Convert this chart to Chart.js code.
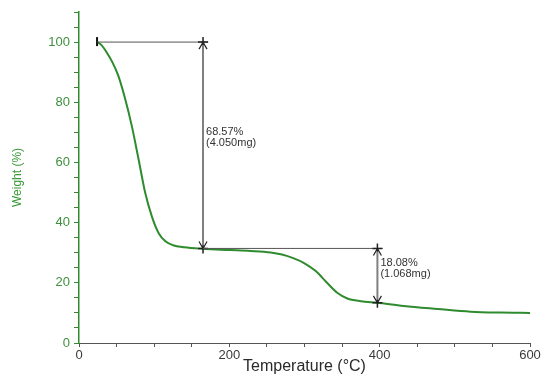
<!DOCTYPE html>
<html>
<head>
<meta charset="utf-8">
<script src="https://cdn.jsdelivr.net/npm/chart.js@4"></script>
<style>
  body { margin: 0; background: #fff; }
</style>
</head>
<body>
<canvas id="tga" width="543" height="376"></canvas>
<script>
// TGA curve
const temps   = [24, 30, 35, 44, 52, 61, 70, 79, 88, 97, 106, 115, 125, 140, 165, 201, 228, 255, 270, 285, 300, 315, 330, 344, 357, 375, 397, 432, 477, 521, 560, 600];
const weights = [100, 99.0, 97.3, 93.5, 89.0, 81.5, 72.4, 61.4, 50.0, 42.0, 36.5, 33.8, 32.5, 31.8, 31.3, 30.9, 30.6, 30.1, 29.4, 28.2, 26.5, 23.9, 20.0, 16.6, 14.8, 13.9, 13.35, 12.3, 11.3, 10.4, 10.1, 10.0];

// weight loss steps
const stepStart = [24, 165];      // start of horizontal line (°C)
const stepEnd   = [172, 404];     // end of horizontal line (°C)
const stepTemp  = [165, 397];     // where the arrow sits (°C)
const stepFrom  = [100, 31.43];   // weight before the step (%)
const stepTo    = [31.43, 13.35]; // weight after the step (%)
const stepPct   = ['68.57%', '18.08%'];
const stepMass  = ['(4.050mg)', '(1.068mg)'];

const xTicks = [0, 200, 400, 600];
const yTicks = [0, 20, 40, 60, 80, 100];

const green = '#2e8b2e';

// arrows, crosses and labels for the steps
const stepsPlugin = {
  id: 'steps',
  afterDatasetsDraw(chart) {
    const ctx = chart.ctx;
    const xs = chart.scales.x, ys = chart.scales.y;
    ctx.save();
    // start marker
    const sx = xs.getPixelForValue(temps[0]), sy = ys.getPixelForValue(weights[0]);
    ctx.strokeStyle = '#111';
    ctx.lineWidth = 2;
    ctx.beginPath(); ctx.moveTo(sx, sy - 5); ctx.lineTo(sx, sy + 4); ctx.stroke();

    for (let i = 0; i < stepTemp.length; i++) {
      const x1 = xs.getPixelForValue(stepStart[i]);
      const x2 = xs.getPixelForValue(stepEnd[i]);
      const ax = xs.getPixelForValue(stepTemp[i]);
      const yA = ys.getPixelForValue(stepFrom[i]);
      const yB = ys.getPixelForValue(stepTo[i]);

      // horizontal line
      ctx.strokeStyle = '#555';
      ctx.lineWidth = 1;
      ctx.beginPath(); ctx.moveTo(x1, yA); ctx.lineTo(x2, yA); ctx.stroke();

      // vertical arrow
      ctx.strokeStyle = '#808080';
      ctx.lineWidth = 2;
      ctx.beginPath(); ctx.moveTo(ax, yA); ctx.lineTo(ax, yB); ctx.stroke();

      // arrow heads
      ctx.strokeStyle = '#222';
      ctx.lineWidth = 1.2;
      ctx.beginPath();
      ctx.moveTo(ax - 4, yA + 7); ctx.lineTo(ax, yA); ctx.lineTo(ax + 4, yA + 7);
      ctx.moveTo(ax - 4, yB - 7); ctx.lineTo(ax, yB); ctx.lineTo(ax + 4, yB - 7);
      ctx.stroke();

      // crosses
      ctx.lineWidth = 1.5;
      ctx.beginPath();
      ctx.moveTo(ax - 5, yA); ctx.lineTo(ax + 5, yA);
      ctx.moveTo(ax, yA - 5); ctx.lineTo(ax, yA + 3);
      ctx.moveTo(ax - 5, yB); ctx.lineTo(ax + 5, yB);
      ctx.moveTo(ax, yB - 3); ctx.lineTo(ax, yB + 5);
      ctx.stroke();

      // labels
      const mid = (yA + yB) / 2 - 8;
      ctx.fillStyle = '#333';
      ctx.font = '11px "Liberation Sans", Arial, sans-serif';
      ctx.textAlign = 'left';
      ctx.textBaseline = 'middle';
      ctx.fillText(stepPct[i], ax + 3, mid - 5);
      ctx.fillText(stepMass[i], ax + 3, mid + 6);
    }
    ctx.restore();
  }
};

const ctx = document.getElementById('tga').getContext('2d');
const tgaChart = new Chart(ctx, {
  type: 'line',
  data: {
    datasets: [{
      label: 'Weight',
      data: temps.map((t, i) => ({ x: t, y: weights[i] })),
      borderColor: green,
      borderWidth: 2,
      pointRadius: 0,
      cubicInterpolationMode: 'monotone',
      fill: false
    }]
  },
  options: {
    responsive: false,
    animation: false,
    devicePixelRatio: 1,
    layout: { padding: { top: 12, right: 13, left: 0, bottom: 0 } },
    plugins: { legend: { display: false }, tooltip: { enabled: false } },
    scales: {
      x: {
        type: 'linear',
        min: 0, max: 600,
        afterFit(scale) { scale.height = 33; },
        border: { display: true, color: '#555', width: 1 },
        grid: { drawOnChartArea: false, drawTicks: true, tickLength: 4, color: '#555' },
        ticks: {
          stepSize: 50,
          autoSkip: false,
          maxRotation: 0,
          padding: 1,
          color: '#3a3a3a',
          font: { family: '"Liberation Sans", Arial, sans-serif', size: 13 },
          callback: v => xTicks.includes(v) ? String(v) : ''
        },
        title: {
          display: true,
          text: 'Temperature (°C)',
          color: '#2a2a2a',
          padding: 0,
          font: { family: '"Liberation Sans", Arial, sans-serif', size: 16 }
        }
      },
      y: {
        min: 0, max: 110,
        afterFit(scale) { scale.width = 79; },
        border: { display: true, color: green, width: 1.5 },
        grid: { drawOnChartArea: false, drawTicks: true, tickLength: 5, color: green },
        ticks: {
          stepSize: 5,
          autoSkip: false,
          padding: 4,
          color: '#3f8f3f',
          font: { family: '"Liberation Sans", Arial, sans-serif', size: 13 },
          callback: v => yTicks.includes(v) ? String(v) : ''
        },
        title: {
          display: true,
          text: 'Weight (%)',
          color: '#3a9a3a',
          padding: 10,
          font: { family: '"Liberation Sans", Arial, sans-serif', size: 12 }
        }
      }
    }
  },
  plugins: [stepsPlugin]
});
</script>
</body>
</html>
